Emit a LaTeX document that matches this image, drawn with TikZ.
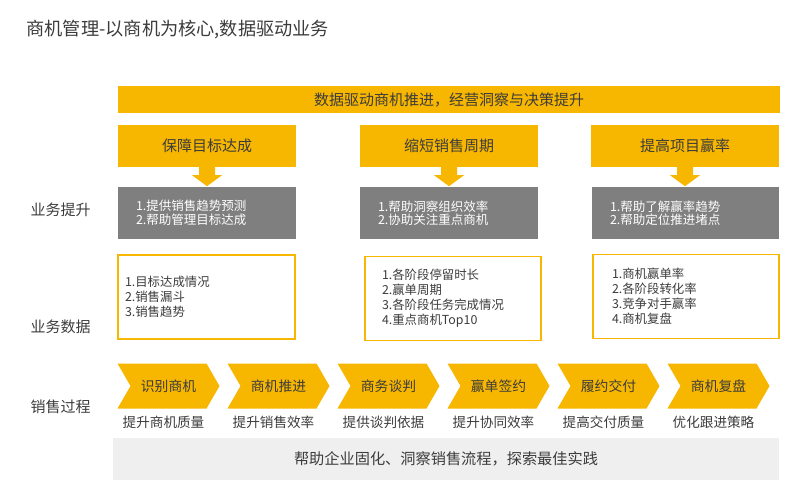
\documentclass[tikz,border=0pt]{standalone}
\usepackage{fontspec}
\setmainfont{Noto Sans CJK SC}
\usetikzlibrary{shapes.symbols,calc}
\definecolor{yel}{RGB}{247,182,0}
\definecolor{txt}{RGB}{60,60,60}
\definecolor{boxgray}{RGB}{127,127,127}
\definecolor{bandgray}{RGB}{239,239,239}
\newcommand{\fsz}[1]{\fontsize{#1}{#1}\selectfont}
\tikzset{
  yelbox/.style={fill=yel, text=txt, font=\fsz{15}, minimum height=42, inner sep=0},
  graybox/.style={fill=boxgray, text=white, font=\fontsize{12.5}{13.5}\selectfont, minimum height=52, align=left, inner xsep=18, inner ysep=0},
  databox/.style={draw=yel, line width=1.6, text=txt, font=\fontsize{12.4}{15}\selectfont, minimum height=84, align=left, inner ysep=0},
  stage/.style={signal, signal from=west, signal to=east, signal pointer angle=120, fill=yel, text=txt, font=\fsz{13.8}, minimum width=102, minimum height=45, inner sep=0},
  sublabel/.style={text=txt, font=\fsz{13.6}},
  rowlabel/.style={anchor=west, text=txt, font=\fsz{15}}
}
\begin{document}
\begin{tikzpicture}[x=1pt, y=-1pt]
\useasboundingbox (0,0) rectangle (800,500);
\node[anchor=west, text=txt, font=\fsz{18.2}] (title) at (23,30) {商机管理-以商机为核心,数据驱动业务};
\node[yelbox, minimum width=662, minimum height=27, font=\fsz{15}] (head) at (449,99.5) {数据驱动商机推进，经营洞察与决策提升};
\node[yelbox, minimum width=178] (g1) at (207,146) {保障目标达成};
\node[yelbox, minimum width=178] (g2) at (449,146) {缩短销售周期};
\node[yelbox, minimum width=188] (g3) at (685,146) {提高项目赢率};
\node[graybox, text width=142] (b1) at (207,213) {1.提供销售趋势预测\\2.帮助管理目标达成};
\node[graybox, text width=142] (b2) at (449,213) {1.帮助洞察组织效率\\2.协助关注重点商机};
\node[graybox, text width=151] (b3) at (685.5,213) {1.帮助了解赢率趋势\\2.帮助定位推进堵点};
\foreach \g in {g1,g2,g3}
  \fill[yel] ($(\g.south)+(-8,0)$) -- ++(0,8) -- ++(-7,0) -- ++(15,11) -- ++(15,-11) -- ++(-7,0) -- ++(0,-8) -- cycle;
\node[databox, text width=163, inner xsep=7] (d1) at (206.5,297) {1.目标达成情况\\2.销售漏斗\\3.销售趋势};
\node[databox, text width=142, inner xsep=17] (d2) at (453,298.5) {1.各阶段停留时长\\2.赢单周期\\3.各阶段任务完成情况\\4.重点商机Top10};
\node[databox, text width=148, inner xsep=19] (d3) at (686,296.5) {1.商机赢单率\\2.各阶段转化率\\3.竞争对手赢率\\4.商机复盘};
\foreach \name [count=\i] in {识别商机,商机推进,商务谈判,赢单签约,履约交付,商机复盘}
  \node[stage] (s\i) at (58.5+110*\i,386) {\name};
\foreach \name [count=\i] in {提升商机质量,提升销售效率,提供谈判依据,提升协同效率,提高交付质量,优化跟进策略}
  \node[sublabel] (u\i) at ($(s\i.center)+(-5,36)$) {\name};
\node[fill=bandgray, text=txt, font=\fsz{15.2}, minimum width=666, minimum height=42] (band) at (446,459) {帮助企业固化、洞察销售流程，探索最佳实践};
\node[rowlabel] (l1) at (27,210) {业务提升};
\node[rowlabel] (l2) at (27,327) {业务数据};
\node[rowlabel] (l3) at (27,407) {销售过程};
\end{tikzpicture}
\end{document}
